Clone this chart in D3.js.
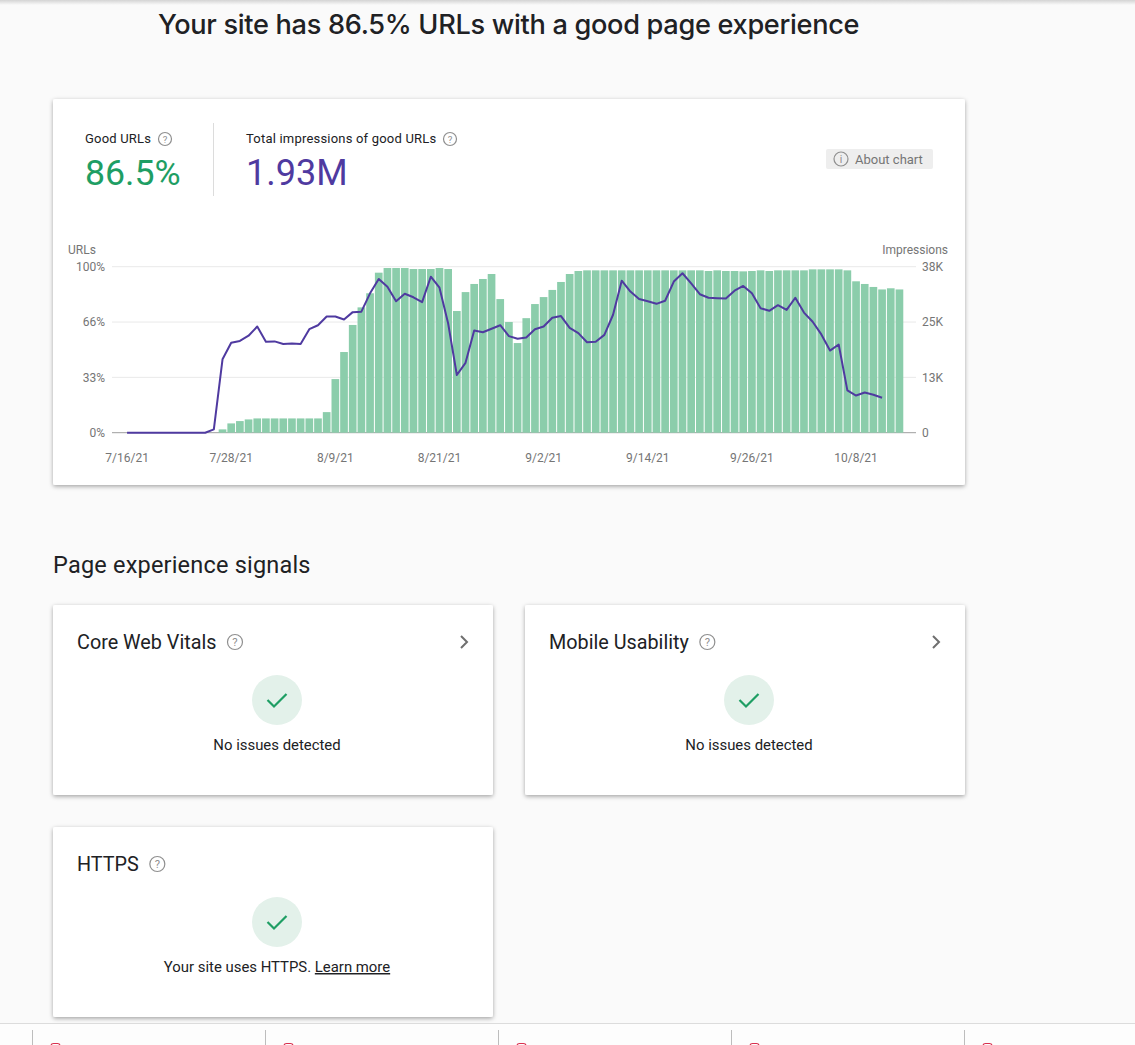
<!DOCTYPE html>
<html>
<head>
<meta charset="utf-8">
<script src="https://d3js.org/d3.v7.min.js"></script>
<style>
  html, body { margin: 0; padding: 0; background: #fafafa; overflow: hidden; }
  text { font-family: Roboto, sans-serif; fill: #202124; }
  .axis text { font-size: 12px; fill: #757575; }
</style>
</head>
<body>
<svg width="1135" height="1045"></svg>
<script>
// share of good URLs per day, percent
const goodUrls = [
  0, 0, 0, 0, 0, 0, 0, 0, 0, 0,
  0, 2, 5.6, 7, 8, 8.6, 8.6, 8.6, 8.6, 8.6,
  8.6, 8.6, 8.6, 12.4, 32.3, 48.6, 64.9, 75.5, 84, 96.4,
  99.2, 99.2, 99.2, 98.6, 98.6, 98.6, 99.2, 98.6, 73.3, 84.7,
  89.6, 92.6, 95.6, 80.5, 66.7, 54, 69, 77.5, 81.7, 86,
  90.8, 95.6, 97.4, 97.8, 97.8, 97.8, 97.8, 97.8, 97.8, 97.8,
  97.8, 97.8, 97.8, 97.8, 97.8, 97.8, 97.8, 97.4, 97.8, 97.4,
  97.4, 97.2, 97.4, 97.8, 97.4, 97.8, 97.8, 97.8, 97.8, 98.4,
  98.4, 98.4, 98.4, 97.8, 91.2, 89.6, 87.8, 86.3, 87, 86.3
]
// impressions of good URLs per day
const impressions = [
  0, 0, 0, 0, 0, 0, 0, 0, 0, 0,
  760, 16800, 20600, 21000, 22200, 24300, 20800, 20900, 20300, 20400,
  20300, 23700, 24600, 26600, 26600, 25900, 27600, 27700, 31900, 35200,
  33400, 30100, 31800, 31000, 29900, 35700, 33200, 25000, 13200, 16000,
  23400, 23000, 23800, 24600, 22100, 21500, 21800, 23700, 24300, 26300,
  26700, 24000, 22800, 20700, 20800, 22400, 27000, 34800, 32300, 30600,
  30100, 29500, 30200, 34600, 36500, 34200, 31700, 30900, 30800, 30700,
  32500, 33600, 31900, 28500, 27900, 29200, 28100, 30900, 27500, 25400,
  22500, 18800, 20200, 9700, 8500, 9200, 8700, 8000
]
const days = d3.utcDay.range(new Date(Date.UTC(2021, 6, 16)), new Date(Date.UTC(2021, 9, 14)))
const dateTicks = ['7/16/21', '7/28/21', '8/9/21', '8/21/21', '9/2/21', '9/14/21', '9/26/21', '10/8/21']
const urlTicks = ['0%', '33%', '66%', '100%']
const impressionTicks = ['0', '13K', '25K', '38K']
const signals = [
  {title: 'Core Web Vitals', x: 53, y: 605, note: 'No issues detected', arrow: true},
  {title: 'Mobile Usability', x: 525, y: 605, note: 'No issues detected', arrow: true},
  {title: 'HTTPS', x: 53, y: 827, note: 'Your site uses HTTPS. ', arrow: false}
]
const footerSeparators = [32, 265, 498, 731, 964]

const svg = d3.select('svg')
const green = '#1e9e64'
const purple = '#4f3aa0'

const defs = svg.append('defs')
const shadow = defs.append('filter').attr('id', 'shadow')
  .attr('x', '-5%').attr('y', '-5%').attr('width', '110%').attr('height', '112%')
shadow.append('feDropShadow').attr('dx', 0).attr('dy', 1.5).attr('stdDeviation', 2.2)
  .attr('flood-color', '#000').attr('flood-opacity', 0.35)
const topFade = defs.append('linearGradient').attr('id', 'topFade').attr('x2', 0).attr('y2', 1)
topFade.append('stop').attr('offset', 0).attr('stop-color', '#d4d4d4')
topFade.append('stop').attr('offset', 1).attr('stop-color', '#fafafa')

svg.append('rect').attr('width', 1135).attr('height', 5).attr('fill', 'url(#topFade)')

svg.append('text').attr('x', 158).attr('y', 34)
  .attr('font-size', 27.15).attr('font-weight', 500)
  .style('font-family', 'Inter, Roboto, sans-serif').style('letter-spacing', '-0.3px')
  .text('Your site has 86.5% URLs with a good page experience')

function card(x, y, w, h) {
  svg.append('rect').attr('x', x).attr('y', y).attr('width', w).attr('height', h)
    .attr('rx', 2).attr('fill', '#fff').attr('filter', 'url(#shadow)')
}

function helpIcon(cx, cy, r, glyph = '?') {
  const g = svg.append('g')
  g.append('circle').attr('cx', cx).attr('cy', cy).attr('r', r)
    .attr('fill', 'none').attr('stroke', '#8f8f8f').attr('stroke-width', 1.2)
  g.append('text').attr('x', cx).attr('y', cy + r * 0.55).attr('text-anchor', 'middle')
    .attr('font-size', r * 1.5).style('fill', '#8f8f8f').text(glyph)
}

// summary card
card(53, 99, 912, 386)
svg.append('text').attr('x', 85).attr('y', 143).attr('font-size', 13).style('letter-spacing', '0.2px').text('Good URLs')
helpIcon(165, 139, 6.5)
svg.append('text').attr('x', 85).attr('y', 185).attr('font-size', 35.7).style('fill', green).text('86.5%')
svg.append('line').attr('x1', 213.5).attr('x2', 213.5).attr('y1', 123).attr('y2', 196).attr('stroke', '#dcdcdc')
svg.append('text').attr('x', 246).attr('y', 143).attr('font-size', 13).style('letter-spacing', '0.2px').text('Total impressions of good URLs')
helpIcon(450, 139, 6.5)
svg.append('text').attr('x', 246).attr('y', 185).attr('font-size', 36).style('fill', purple).text('1.93M')

svg.append('rect').attr('x', 826).attr('y', 149).attr('width', 107).attr('height', 20).attr('rx', 2).attr('fill', '#eeeeee')
helpIcon(841, 159, 7, 'i')
svg.append('text').attr('x', 855).attr('y', 163.5).attr('font-size', 13).style('fill', '#757575').text('About chart')

// chart
const x = d3.scaleBand().domain(days).range([122.7, 903.8]).paddingInner(0.115).paddingOuter(0.06)
const yUrls = d3.scaleLinear().domain([0, 100]).range([432.7, 266.7])
const yImpressions = d3.scaleLinear().domain([0, 38000]).range([432.7, 266.7])
const plotLeft = 112
const plotRight = 916
const fmt = d3.utcFormat('%-m/%-d/%y')
const tickDays = days.filter(d => dateTicks.includes(fmt(d)))

const urlAxis = d3.axisLeft(yUrls)
  .tickValues(urlTicks.map((_, i) => i * 100 / 3))
  .tickFormat((_, i) => urlTicks[i]).tickSize(0).tickPadding(7)
const impressionAxis = d3.axisRight(yImpressions)
  .tickValues(impressionTicks.map((_, i) => i * 38000 / 3))
  .tickFormat((_, i) => impressionTicks[i]).tickSize(0).tickPadding(6)
const dateAxis = d3.axisBottom(x)
  .tickValues(tickDays).tickFormat(fmt).tickSize(0).tickPadding(15)

// gridlines
svg.append('g').selectAll('line')
  .data(urlTicks.map((_, i) => i * 100 / 3))
  .join('line')
  .attr('x1', plotLeft).attr('x2', plotRight)
  .attr('y1', d => yUrls(d)).attr('y2', d => yUrls(d))
  .attr('stroke', (d, i) => i === 0 ? '#9e9e9e' : '#e9e9e9')

svg.append('g').selectAll('rect')
  .data(goodUrls)
  .join('rect')
  .attr('x', (_, i) => x(days[i]))
  .attr('width', x.bandwidth())
  .attr('y', d => yUrls(d))
  .attr('height', d => yUrls(0) - yUrls(d))
  .attr('fill', '#8bcdab')

const line = d3.line()
  .x((_, i) => x(days[i]) + x.bandwidth() / 2)
  .y(d => yImpressions(d))
svg.append('path').datum(impressions)
  .attr('d', line).attr('fill', 'none')
  .attr('stroke', purple).attr('stroke-width', 2).attr('stroke-linejoin', 'round')

svg.append('g').attr('class', 'axis').attr('transform', `translate(${plotLeft},0)`)
  .call(urlAxis).call(g => g.select('.domain').remove())
svg.append('g').attr('class', 'axis').attr('transform', `translate(${plotRight},0)`)
  .call(impressionAxis).call(g => g.select('.domain').remove())
svg.append('g').attr('class', 'axis').attr('transform', 'translate(0,438)')
  .call(dateAxis).call(g => g.select('.domain').remove())

svg.append('text').attr('x', 68).attr('y', 254).attr('font-size', 12).style('fill', '#757575').text('URLs')
svg.append('text').attr('x', 948).attr('y', 254).attr('font-size', 12).attr('text-anchor', 'end').style('fill', '#757575').text('Impressions')

// signal cards
svg.append('text').attr('x', 53).attr('y', 573).attr('font-size', 23.5).style('letter-spacing', '0.2px').text('Page experience signals')

signals.forEach(s => {
  card(s.x, s.y, 440, 190)
  const title = svg.append('text').attr('x', s.x + 24).attr('y', s.y + 44)
    .attr('font-size', 19.8).text(s.title)
  const titleWidth = title.node().getComputedTextLength()
  helpIcon(s.x + 24 + titleWidth + 18.5, s.y + 37, 7.5)
  if (s.arrow) {
    svg.append('path')
      .attr('d', `M${s.x + 408} ${s.y + 31} l6 6 l-6 6`)
      .attr('fill', 'none').attr('stroke', '#6f6f6f').attr('stroke-width', 2)
  }
  const cx = s.x + 224
  const cy = s.y + 95
  svg.append('circle').attr('cx', cx).attr('cy', cy).attr('r', 25).attr('fill', '#e3f1ea')
  svg.append('path')
    .attr('d', `M${cx - 9.5} ${cy} l6.5 6.5 l12.5 -12.5`)
    .attr('fill', 'none').attr('stroke', green).attr('stroke-width', 2.2)
  const note = svg.append('text').attr('x', cx).attr('y', s.y + 145)
    .attr('text-anchor', 'middle').attr('font-size', 14.9).text(s.note)
  if (!s.arrow) {
    note.append('tspan').style('text-decoration', 'underline').text('Learn more')
  }
})

// footer strip
svg.append('rect').attr('y', 1024).attr('width', 1135).attr('height', 21).attr('fill', '#fdfdfd')
svg.append('line').attr('x1', 0).attr('x2', 1135).attr('y1', 1023.5).attr('y2', 1023.5).attr('stroke', '#dcdcdc')
svg.append('g').selectAll('line')
  .data(footerSeparators)
  .join('line')
  .attr('x1', d => d + 0.5).attr('x2', d => d + 0.5)
  .attr('y1', 1030).attr('y2', 1045).attr('stroke', '#bdbdbd')
svg.append('g').selectAll('rect')
  .data(footerSeparators)
  .join('rect')
  .attr('x', d => d + 19).attr('y', 1043.5).attr('width', 9).attr('height', 8).attr('rx', 2.5)
  .attr('fill', 'none').attr('stroke', '#d9304f').attr('stroke-width', 1.2)
</script>
</body>
</html>
